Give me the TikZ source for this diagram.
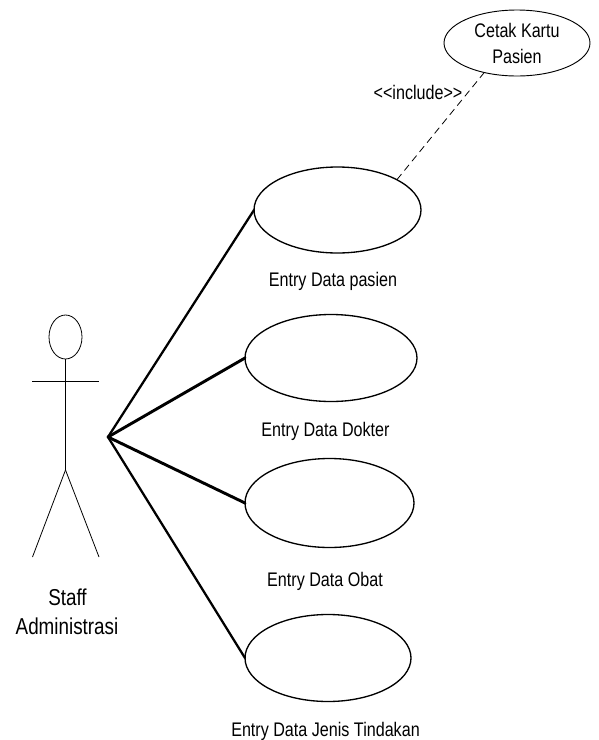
\documentclass[tikz,border=0pt]{standalone}
\usepackage{fontspec}
\setmainfont{Liberation Sans}
\newfontfamily\narrowfont[FakeStretch=0.82]{Liberation Sans}
\usetikzlibrary{shapes.geometric}
\newcommand{\px}{0.0264583cm}
\tikzset{x=\px,y=-\px,
 usecase/.style={draw,ellipse,line width=1pt,inner sep=0pt,outer sep=0pt},
 lab/.style={font=\narrowfont\fontsize{14.8}{18}\selectfont,inner sep=0pt,anchor=base},
 assoc/.style={line width=1.7pt,line cap=round},
 assocheavy/.style={line width=2.2pt,line cap=round},
 thin line/.style={line width=0.6pt}}
\begin{document}
\begin{tikzpicture}
\useasboundingbox (0,0) rectangle (598,740);
\node[usecase,minimum width=167*\px,minimum height=86*\px] (u1) at (337.5,210) {};
\node[usecase,minimum width=172*\px,minimum height=87*\px] (u2) at (331,358) {};
\node[usecase,minimum width=169*\px,minimum height=89*\px] (u3) at (329.5,503) {};
\node[usecase,minimum width=166*\px,minimum height=87*\px] (u4) at (328,658) {};
\node[usecase,line width=0.7pt,minimum width=146*\px,minimum height=66*\px] (u5) at (517,43) {};
\node[lab] (t1) at (333,286) {Entry Data pasien};
\node[lab] (t2) at (325.5,436) {Entry Data Dokter};
\node[lab] (t3) at (325,586) {Entry Data Obat};
\node[lab] (t4) at (325.5,736) {Entry Data Jenis Tindakan};
\node[lab] (t5a) at (517,37) {Cetak Kartu};
\node[lab] (t5b) at (517,63) {Pasien};
\node[lab] (t6) at (418,99) {<{}<include>{}>};
\node[lab,font=\narrowfont\fontsize{17.3}{21.5}\selectfont] (t7a) at (67.5,605) {Staff};
\node[lab,font=\narrowfont\fontsize{17.3}{21.5}\selectfont] (t7b) at (67,634) {Administrasi};
\node[draw,ellipse,line width=0.6pt,minimum width=33*\px,minimum height=44*\px,inner sep=0pt,outer sep=0pt] (head) at (65.5,337) {};
\coordinate (hip) at (65.5,470);
\coordinate (armL) at (32,381);
\coordinate (armR) at (99,381);
\coordinate (footL) at (32.5,557);
\coordinate (footR) at (99,557);
\coordinate (hub) at (108,437);
\draw[thin line] (head.south) -- (hip);
\draw[thin line] (armL) -- (armR);
\draw[thin line] (hip) -- (footL);
\draw[thin line] (hip) -- (footR);
\draw[assoc] (hub) -- (u1.west);
\draw[assocheavy] (hub) -- (u2.west);
\draw[assocheavy] (hub) -- (u3.west);
\draw[assoc] (hub) -- (u4.west);
\draw[dash pattern=on 5.5pt off 3.5pt,line width=0.6pt] (u1.27) -- (u5.222);
\end{tikzpicture}
\end{document}
